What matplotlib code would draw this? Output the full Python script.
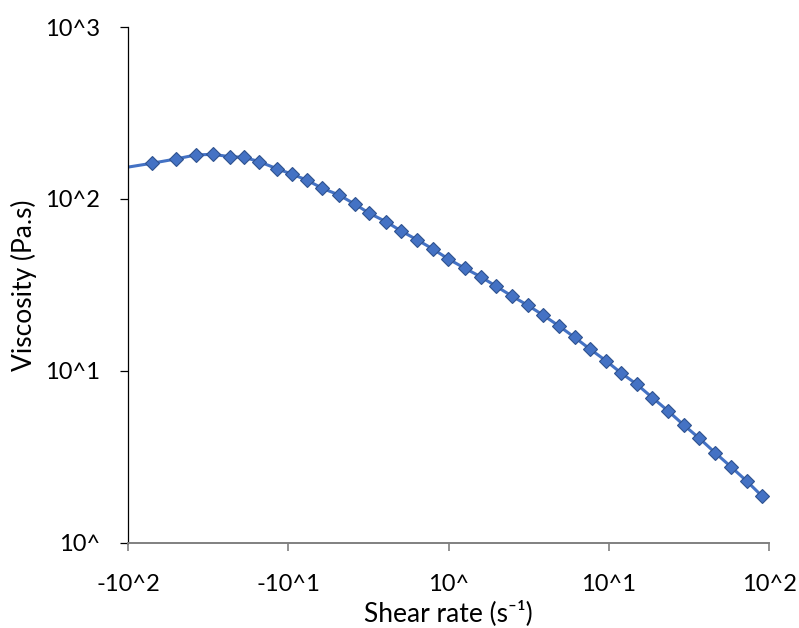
import matplotlib.pyplot as plt
from matplotlib.ticker import FixedLocator, FixedFormatter, NullLocator

# shear rate (1/s) and viscosity (Pa.s)
shear_rate = [0.00708, 0.01406, 0.01985, 0.02644, 0.03377, 0.0433, 0.05297, 0.06596,
              0.0847, 0.106, 0.1303, 0.1632, 0.2073, 0.2609, 0.3204, 0.4074, 0.5054,
              0.6387, 0.8039, 0.9972, 1.268, 1.588, 1.97, 2.48, 3.12, 3.871, 4.873,
              6.113, 7.638, 9.572, 11.88, 14.94, 18.7, 23.33, 29.36, 36.75, 46.03,
              57.68, 72.57, 90.03]
viscosity = [145.5, 161.3, 170.8, 180.3, 181.9, 176.2, 174.8, 164.8, 150.1, 139.2,
             128.9, 115.4, 105.5, 93.2, 82.6, 73.8, 65.2, 57.8, 51.0, 44.8, 39.5,
             35.3, 31.2, 27.3, 24.1, 21.2, 18.3, 15.7, 13.4, 11.5, 9.77, 8.37, 7.0,
             5.88, 4.85, 4.06, 3.35, 2.78, 2.29, 1.88]

x_ticks = [0.01, 0.1, 1, 10, 100]
x_labels = ["-10^2", "-10^1", "10^", "10^1", "10^2"]
y_ticks = [1, 10, 100, 1000]
y_labels = ["10^", "10^1", "10^2", "10^3"]

plt.rcParams["font.family"] = ["Lato", "DejaVu Sans"]

fig = plt.figure(figsize=(7.99, 6.28), dpi=100)
ax = fig.add_axes([0.1602, 0.1354, 0.8023, 0.8216])

ax.plot(shear_rate, viscosity, color="#4472C4", lw=2.2, marker="D", ms=7.6,
        mfc="#4472C4", mec="#2F528F", mew=0.8)

ax.set_xscale("log")
ax.set_yscale("log")
ax.set_xlim(0.01, 100)
ax.set_ylim(1, 1000)

ax.xaxis.set_major_locator(FixedLocator(x_ticks))
ax.xaxis.set_major_formatter(FixedFormatter(x_labels))
ax.xaxis.set_minor_locator(NullLocator())
ax.yaxis.set_major_locator(FixedLocator(y_ticks))
ax.yaxis.set_major_formatter(FixedFormatter(y_labels))
ax.yaxis.set_minor_locator(NullLocator())

for s in ["top", "right"]:
    ax.spines[s].set_visible(False)
ax.spines["left"].set_color("#000000")
ax.spines["left"].set_linewidth(0.9)
ax.spines["bottom"].set_color("#808080")
ax.spines["bottom"].set_linewidth(1.4)

ax.tick_params(axis="y", direction="out", length=6, width=0.9, color="#000000",
               labelsize=17, pad=14)
ax.tick_params(axis="x", direction="out", length=6, width=1.2, color="#808080",
               labelsize=17, pad=16)

ax.set_xlabel("Shear rate (s\u207b\u00b9)", fontsize=19, labelpad=4)
ax.set_ylabel("Viscosity (Pa.s)", fontsize=19, labelpad=6)

fig.savefig("out.png", dpi=100)
